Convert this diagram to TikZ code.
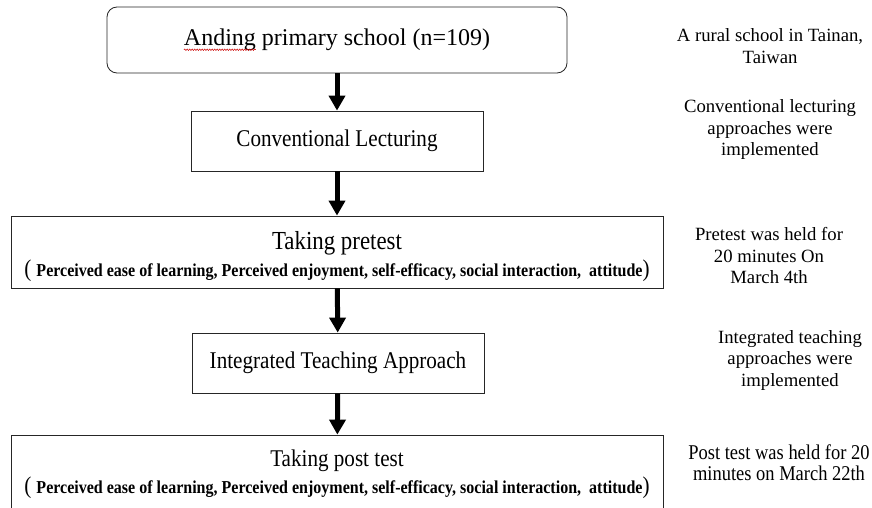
\documentclass[tikz,border=0pt]{standalone}
\usepackage{fontspec}
\setmainfont{Liberation Serif}
\newfontfamily\etroit[FakeStretch=0.88]{Liberation Serif}
\usetikzlibrary{arrows.meta,calc,decorations.pathmorphing}

\begin{document}
\begin{tikzpicture}[x=1pt,y=-1pt]
  \tikzstyle{boite}=[draw=black!85, line width=0.8pt, inner sep=0pt,
  align=center, text=black]
  \tikzstyle{fleche}=[-{Triangle[width=16pt,length=15pt]}, line width=5pt, black]
  \tikzstyle{note}=[align=center, text=black, font=\fontsize{18.7}{21.5}\selectfont]
  \clip (0,0) rectangle (872,508);
  \fill[white] (0,0) rectangle (872,508);
  % les boites
  \node[boite, rounded corners=10pt, minimum width=460pt, minimum height=66pt,
  font=\fontsize{24}{28}\selectfont] (school) at (337,40) {Anding primary school (n=109)};
  \node[boite, minimum width=292pt, minimum height=60pt,
  font=\etroit\fontsize{24}{28}\selectfont] (conv) at (337,141) {Conventional Lecturing};
  \node[boite, minimum width=652pt, minimum height=72pt,
  font=\etroit\fontsize{26}{27}\selectfont] (pre) at (337,252)
  {\rule{0pt}{28pt}Taking pretest\\
    {\fontsize{24}{26}\selectfont(}\hspace{5pt}{\bfseries\fontsize{18.2}{26}\selectfont Perceived ease of learning,
      Perceived enjoyment, self-efficacy, social interaction,\ \ attitude}{\fontsize{24}{26}\selectfont)}\hspace{10pt}};
  \node[boite, minimum width=292pt, minimum height=60pt,
  font=\etroit\fontsize{24}{28}\selectfont] (integ) at (338,363) {Integrated Teaching Approach};
  \node[boite, minimum width=652pt, minimum height=78pt,
  font=\etroit\fontsize{24}{27}\selectfont] (post) at (337,474)
  {Taking post test\\
    {\fontsize{24}{26}\selectfont(}\hspace{5pt}{\bfseries\fontsize{18.2}{26}\selectfont Perceived ease of learning,
      Perceived enjoyment, self-efficacy, social interaction,\ \ attitude}{\fontsize{24}{26}\selectfont)}\hspace{10pt}};
  % soulignement rouge
  \draw[red!80!black, line width=0.5pt, decorate,
  decoration={snake, amplitude=0.8pt, segment length=2.5pt}]
  ($(school.text)+(0,4)$) -- ($(school.text)+(72,4)$);
  \foreach \a/\b in {school/conv,conv/pre,pre/integ,integ/post} {
    \draw[fleche] (\a) -- (\b);
  }
  % les notes
  \node[note] (rural) at (770,46) {A rural school in Tainan,\\Taiwan};
  \node[note] (convnote) at (770,130) {Conventional lecturing\\approaches were\\implemented};
  \node[note] (prenote) at (769,256) {Pretest was held for\\20 minutes On\\March 4th};
  \node[note] (integnote) at (790,360) {Integrated teaching\\approaches were\\implemented};
  \node[note, font=\etroit\fontsize{21}{21}\selectfont] (postnote) at (779,463)
  {Post test was held for 20\\minutes on March 22th};
\end{tikzpicture}
\end{document}
